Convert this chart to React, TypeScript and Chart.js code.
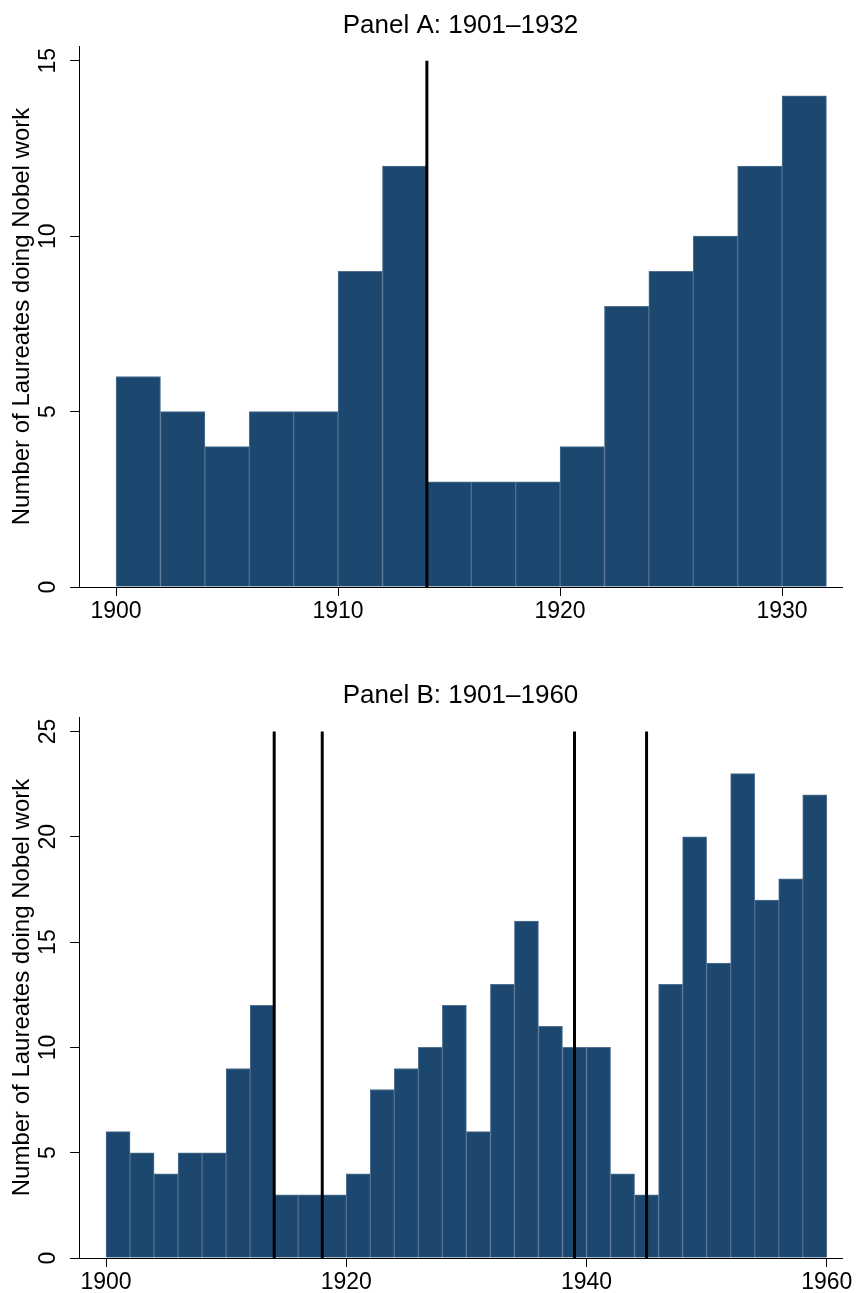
import React, { useEffect, useRef } from "react";
import { Chart, registerables } from "chart.js";

Chart.register(...registerables);

// ---------- Data ----------
const binCentersA = [1901, 1903, 1905, 1907, 1909, 1911, 1913, 1915, 1917, 1919, 1921, 1923, 1925, 1927, 1929, 1931];
const countsA = [6, 5, 4, 5, 5, 9, 12, 3, 3, 3, 4, 8, 9, 10, 12, 14];

const binCentersB = [
  1901, 1903, 1905, 1907, 1909, 1911, 1913, 1915, 1917, 1919,
  1921, 1923, 1925, 1927, 1929, 1931, 1933, 1935, 1937, 1939,
  1941, 1943, 1945, 1947, 1949, 1951, 1953, 1955, 1957, 1959,
];
const countsB = [
  6, 5, 4, 5, 5, 9, 12, 3, 3, 3,
  4, 8, 9, 10, 12, 6, 13, 16, 11, 10,
  10, 4, 3, 13, 20, 14, 23, 17, 18, 22,
];

const refYearsA = [1914];
const refYearsB = [1914, 1918, 1939, 1945];

const xTicksA = [1900, 1910, 1920, 1930];
const xTicksB = [1900, 1920, 1940, 1960];
const yTicksA = [0, 5, 10, 15];
const yTicksB = [0, 5, 10, 15, 20, 25];

const titleA = "Panel A: 1901–1932";
const titleB = "Panel B: 1901–1960";
const yTitle = "Number of Laureates doing Nobel work";

// ---------- Styling ----------
const FONT = "'Liberation Sans', Arial, Helvetica, sans-serif";
const BAR_FILL = "#1c4870";
const BAR_EDGE = "#4f7090";

const refLinePlugin = {
  id: "refLines",
  afterDatasetsDraw(chart: any, _args: any, opts: any) {
    const { ctx } = chart;
    const x = chart.scales.x;
    const y = chart.scales.y;
    ctx.save();
    ctx.strokeStyle = "#000";
    ctx.lineWidth = opts.width || 3;
    for (const yr of opts.years || []) {
      const px = x.getPixelForValue(yr);
      ctx.beginPath();
      ctx.moveTo(px, y.getPixelForValue(opts.top));
      ctx.lineTo(px, y.getPixelForValue(0));
      ctx.stroke();
    }
    ctx.restore();
  },
};

type PanelProps = {
  centers: number[];
  counts: number[];
  title: string;
  refYears: number[];
  refTop: number;
  xTicks: number[];
  yTicks: number[];
  xMin: number;
  xMax: number;
  yMax: number;
  height: number;
  titlePadTop: number;
  titlePadBottom: number;
  xAxisHeight: number;
};

function Panel(p: PanelProps) {
  const ref = useRef<HTMLCanvasElement | null>(null);
  useEffect(() => {
    if (!ref.current) return;
    const chart = new Chart(ref.current, {
      type: "bar",
      data: {
        datasets: [
          {
            data: p.centers.map((c, i) => ({ x: c, y: p.counts[i] })),
            backgroundColor: BAR_FILL,
            borderColor: BAR_EDGE,
            borderWidth: { top: 1, left: 1, right: 1, bottom: 0 },
            borderSkipped: false,
            barPercentage: 1,
            categoryPercentage: 1,
          } as any,
        ],
      },
      plugins: [refLinePlugin as any],
      options: {
        animation: false,
        responsive: false,
        maintainAspectRatio: false,
        layout: { padding: { left: 0, right: 16, top: 0, bottom: 0 } },
        plugins: {
          legend: { display: false },
          tooltip: { enabled: false },
          title: {
            display: true,
            text: p.title,
            fullSize: false,
            color: "#000",
            font: { family: FONT, size: 26, weight: "normal", lineHeight: 1.2 },
            padding: { top: p.titlePadTop, bottom: p.titlePadBottom },
          },
          refLines: { years: p.refYears, top: p.refTop, width: 3 },
        } as any,
        scales: {
          x: {
            type: "linear",
            min: p.xMin,
            max: p.xMax,
            offset: false,
            afterBuildTicks: (s: any) => {
              s.ticks = p.xTicks.map((v) => ({ value: v }));
            },
            afterFit: (s: any) => {
              s.height = p.xAxisHeight;
            },
            grid: {
              offset: false,
              drawOnChartArea: false,
              drawTicks: true,
              tickLength: 9,
              color: "#000",
              lineWidth: 1,
            },
            border: { display: true, color: "#000", width: 1 },
            ticks: {
              autoSkip: false,
              maxRotation: 0,
              minRotation: 0,
              padding: 2,
              color: "#000",
              font: { family: FONT, size: 23 },
              callback: (v: any) => String(v),
            },
          },
          y: {
            type: "linear",
            min: 0,
            max: p.yMax,
            afterBuildTicks: (s: any) => {
              s.ticks = p.yTicks.map((v) => ({ value: v }));
            },
            afterFit: (s: any) => {
              s.width = 79;
            },
            grid: {
              drawOnChartArea: false,
              drawTicks: true,
              tickLength: 9,
              color: "#000",
              lineWidth: 1,
            },
            border: { display: true, color: "#000", width: 1 },
            ticks: {
              minRotation: 90,
              maxRotation: 90,
              crossAlign: "center",
              padding: 9,
              color: "#000",
              font: { family: FONT, size: 23 },
              callback: (v: any) => String(v),
            },
            title: {
              display: true,
              text: yTitle,
              color: "#000",
              font: { family: FONT, size: 24 },
              padding: { top: 8, bottom: 0 },
            },
          },
        },
      } as any,
    });
    return () => chart.destroy();
  }, []);
  return (
    <canvas
      ref={ref}
      width={858}
      height={p.height}
      style={{ display: "block", width: 858, height: p.height }}
    />
  );
}

export default function App() {
  return (
    <div
      style={{
        position: "absolute",
        left: 0,
        top: 0,
        width: 858,
        height: 1293,
        background: "#fff",
      }}
    >
      <Panel
        centers={binCentersA}
        counts={countsA}
        title={titleA}
        refYears={refYearsA}
        refTop={15}
        xTicks={xTicksA}
        yTicks={yTicksA}
        xMin={1898.33}
        xMax={1932.7}
        yMax={15.42}
        height={646}
        titlePadTop={10.4}
        titlePadBottom={4.4}
        xAxisHeight={59}
      />
      <Panel
        centers={binCentersB}
        counts={countsB}
        title={titleB}
        refYears={refYearsB}
        refTop={25}
        xTicks={xTicksB}
        yTicks={yTicksB}
        xMin={1897.75}
        xMax={1961.27}
        yMax={25.69}
        height={647}
        titlePadTop={34.4}
        titlePadBottom={5.4}
        xAxisHeight={35}
      />
    </div>
  );
}
